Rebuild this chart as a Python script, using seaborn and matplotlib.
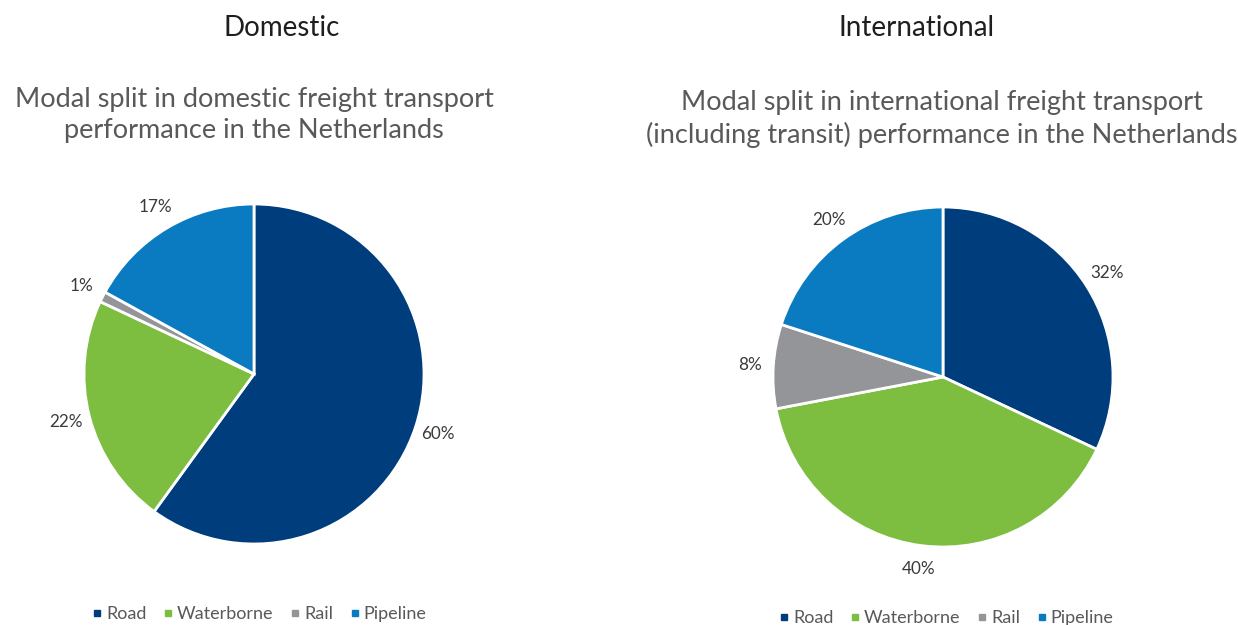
import matplotlib
matplotlib.use("Agg")
import matplotlib.pyplot as plt
from matplotlib.lines import Line2D
import seaborn as sns

# Modal split data (shares in percent)
modes = ["Road", "Waterborne", "Rail", "Pipeline"]
domestic_share = [60, 22, 1, 17]
international_share = [32, 40, 8, 20]

panel_titles = ["Domestic", "International"]
chart_titles = [
    "Modal split in domestic freight transport\nperformance in the Netherlands",
    "Modal split in international freight transport\n(including transit) performance in the Netherlands",
]

sns.set_theme(style="white")
plt.rcParams["font.family"] = ["Lato", "DejaVu Sans"]

palette = sns.color_palette(["#003D7C", "#7DBE41", "#939598", "#0A7BC1"])

W, H = 1238, 625
fig = plt.figure(figsize=(W / 100, H / 100), dpi=100)
fig.patch.set_facecolor("white")


def px_axes(cx, cy, r):
    """Axes whose data range [-1, 1] maps to a circle of radius r px at (cx, cy)."""
    return fig.add_axes([(cx - r) / W, (H - cy - r) / H, 2 * r / W, 2 * r / H])


def draw_pie(ax, values):
    ax.pie(
        values,
        colors=palette,
        startangle=90,
        counterclock=False,
        autopct=lambda p: f"{p:.0f}%",
        pctdistance=1.14,
        wedgeprops=dict(edgecolor="white", linewidth=2),
        textprops=dict(color="#3a3a3a", fontsize=12.3),
    )
    ax.set_xlim(-1, 1)
    ax.set_ylim(-1, 1)
    ax.set_aspect("equal")
    ax.axis("off")


def draw_legend(x_center, y_px):
    handles = [
        Line2D([], [], marker="s", linestyle="none", markersize=5,
               markerfacecolor=c, markeredgecolor=c)
        for c in palette
    ]
    fig.legend(
        handles, modes, ncol=4, frameon=False,
        loc="center", bbox_to_anchor=(x_center / W, 1 - y_px / H),
        fontsize=13, labelcolor="#595959",
        handlelength=0.4, handletextpad=0.3, columnspacing=1.0,
    )


ax_left = px_axes(254, 374, 170)
draw_pie(ax_left, domestic_share)
ax_right = px_axes(943, 377, 170)
draw_pie(ax_right, international_share)

# Panel headings
fig.text(282 / W, 1 - 28 / H, panel_titles[0], ha="center", va="center",
         fontsize=20, color="#1e1e1e")
fig.text(917 / W, 1 - 28 / H, panel_titles[1], ha="center", va="center",
         fontsize=20, color="#1e1e1e")

# Chart titles
fig.text(254 / W, 1 - 115 / H, chart_titles[0], ha="center", va="center",
         fontsize=19.5, color="#595959", linespacing=1.32)
fig.text(942 / W, 1 - 119 / H, chart_titles[1], ha="center", va="center",
         fontsize=19.5, color="#595959", linespacing=1.32)

draw_legend(260, 614)
draw_legend(947, 618)

fig.savefig("out.png", dpi=100, facecolor="white")
